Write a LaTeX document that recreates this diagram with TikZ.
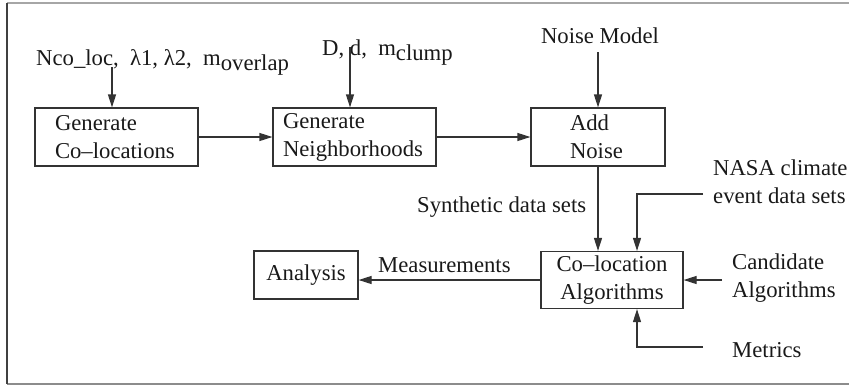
\documentclass[tikz,border=0pt]{standalone}
\usepackage{fontspec}
\setmainfont{Liberation Serif}
\usetikzlibrary{arrows.meta}
\begin{document}
\begin{tikzpicture}[x=1pt,y=-1pt,
  font=\fontsize{22.7}{28}\selectfont,
  box/.style={draw=black!80, line width=1.2pt, rectangle, inner sep=0pt, text=black!90},
  arr/.style={draw=black!80, line width=1.2pt, -{Triangle[length=13pt,width=8pt]}},
  lbl/.style={inner sep=0pt, text=black!90}]
\useasboundingbox (0,0) rectangle (849,389);
% frame
\draw[black!35, line width=2pt] (7,3) -- (849,3);
\draw[black!45, line width=2.5pt] (7,384) -- (849,384);
\draw[black!75, line width=1.6pt] (7,3) -- (7,384);
% boxes
\node[box, minimum width=163pt, minimum height=58pt, inner xsep=20pt, text width=123pt, align=left] (b1) at (116.5,137) {Generate\\Co--locations};
\node[box, minimum width=163pt, minimum height=58pt, inner xsep=10pt, text width=143pt, align=left] (b2) at (354.5,137) {Generate\\Neighborhoods};
\node[box, minimum width=134pt, minimum height=58pt, inner xsep=39pt, text width=56pt, align=left] (b3) at (598,137) {Add\\Noise};
\node[box, minimum width=142pt, minimum height=57pt, align=center] (co) at (612,280) {Co--location\\Algorithms};
\node[box, minimum width=104pt, minimum height=48pt] (an) at (306,275) {Analysis};
% labels
\node[lbl, anchor=base west] (p1) at (36,65) {Nco\_loc,\ \ λ1, λ2,\ \ m\raisebox{-5pt}{overlap}};
\node[lbl, anchor=base west] (p2) at (322,55) {D, d,\ \ m\raisebox{-5pt}{clump}};
\node[lbl, anchor=base] (nm) at (600,43) {Noise Model};
\node[lbl, anchor=west, align=left] (nasa) at (713,182) {NASA climate\\event data sets};
\node[lbl, anchor=west] (syn) at (417,207) {Synthetic data sets};
\node[lbl, anchor=west] (meas) at (378,265) {Measurements};
\node[lbl, anchor=west, align=left] (cand) at (732,278) {Candidate\\Algorithms};
\node[lbl, anchor=west] (met) at (732,350) {Metrics};
% connector ends
\coordinate (p1a) at (112,67);
\coordinate (p2a) at (350,47);
\coordinate (nma) at (598,52);
\coordinate (nasaa) at (703,194);
\coordinate (canda) at (722,280);
\coordinate (meta) at (703,347);
% connectors
\draw[arr] (p1a) -- (p1a |- b1.north);
\draw[arr] (p2a) -- (p2a |- b2.north);
\draw[arr] (nma) -- (nma |- b3.north);
\draw[arr] (b1.east) -- (b2.west);
\draw[arr] (b2.east) -- (b3.west);
\draw[arr] (b3.south) -- (b3.south |- co.north);
\draw[arr] (nasaa) -| ([xshift=25pt]co.north);
\draw[arr] (canda) -- (co.east);
\draw[arr] (meta) -| ([xshift=25pt]co.south);
\draw[arr] (co.west) -- (co.west -| an.east);
\end{tikzpicture}
\end{document}
